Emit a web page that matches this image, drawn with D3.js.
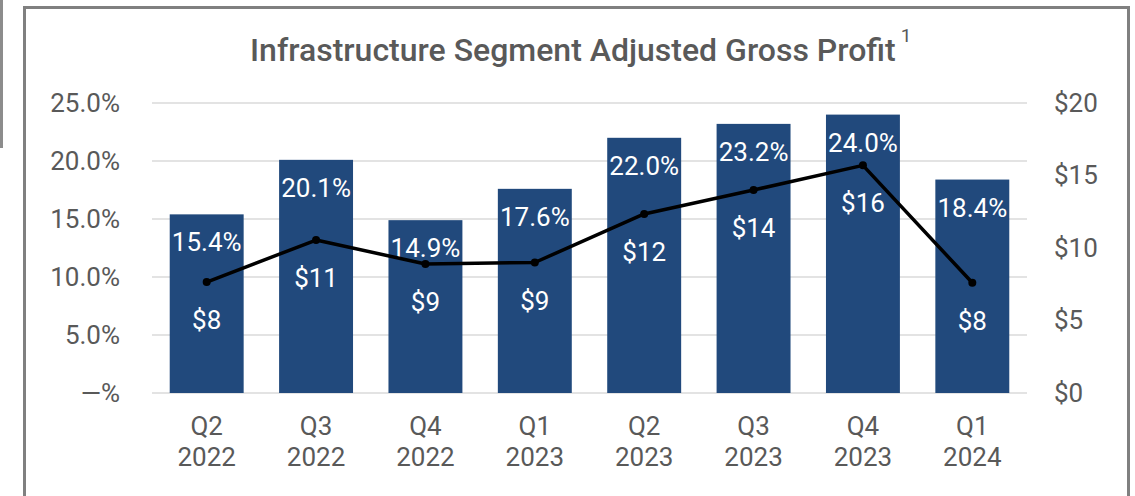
<!DOCTYPE html>
<html><head><meta charset="utf-8">
<script src="https://cdn.jsdelivr.net/npm/d3@7"></script>
<style>
html,body{margin:0;padding:0;background:#fff;}
svg{display:block;font-family:Roboto, "Noto Sans", sans-serif;}
</style></head>
<body>
<svg id="c" width="1135" height="496"></svg>
<script>
const quarters = ["Q2","Q3","Q4","Q1","Q2","Q3","Q4","Q1"];
const years = ["2022","2022","2022","2023","2023","2023","2023","2024"];
const marginPct = [15.4, 20.1, 14.9, 17.6, 22.0, 23.2, 24.0, 18.4];
const grossProfit = [7.65, 10.55, 8.9, 9.0, 12.35, 14.0, 15.7, 7.6];
const profitLabels = ["$8","$11","$9","$9","$12","$14","$16","$8"];
const leftTicks = [0, 5, 10, 15, 20, 25];
const rightTicks = [0, 5, 10, 15, 20];

const svg = d3.select("#c");
const grey = "#595959";
const barColor = "#21497c";

// frame
svg.append("line").attr("x1",1.5).attr("x2",1.5).attr("y1",0).attr("y2",148)
  .attr("stroke","#8c8c8c").attr("stroke-width",3);
svg.append("path").attr("d","M24.5,520 V7.5 H1128.5 V520")
  .attr("fill","none").attr("stroke","#808080").attr("stroke-width",3);

const keys = d3.range(quarters.length);
const x = d3.scaleBand().domain(keys).range([152,1027]).paddingInner(0.324).paddingOuter(0.162);
const yL = d3.scaleLinear().domain([0,25]).range([393,103]);
const yR = d3.scaleLinear().domain([0,20]).range([393,103]);

// grid
svg.append("g").selectAll("line").data(leftTicks).join("line")
  .attr("x1",152).attr("x2",1027)
  .attr("y1",d=>yL(d)).attr("y2",d=>yL(d))
  .attr("stroke","#e3e3e3").attr("stroke-width",2);

// left axis
const axL = svg.append("g").attr("transform","translate(120,0)")
  .call(d3.axisLeft(yL).tickValues(leftTicks).tickSize(0).tickPadding(0)
    .tickFormat(d=> d===0 ? "\u2014%" : d.toFixed(1)+"%"));
axL.select(".domain").remove();
axL.selectAll("text").attr("fill",grey).style("font-size","26px").style("font-family","Roboto");

// right axis
const axR = svg.append("g").attr("transform","translate(1054,0)")
  .call(d3.axisRight(yR).tickValues(rightTicks).tickSize(0).tickPadding(0)
    .tickFormat(d=>"$"+d));
axR.select(".domain").remove();
axR.selectAll("text").attr("fill",grey).style("font-size","26px").style("font-family","Roboto");

// bars
svg.append("g").selectAll("rect").data(keys).join("rect")
  .attr("x",i=>x(i)).attr("width",x.bandwidth())
  .attr("y",i=>yL(marginPct[i])).attr("height",i=>yL(0)-yL(marginPct[i]))
  .attr("fill",barColor);

// percent labels
svg.append("g").selectAll("text").data(keys).join("text")
  .attr("x",i=>x(i)+x.bandwidth()/2).attr("y",i=>yL(marginPct[i])+28)
  .attr("text-anchor","middle").attr("dominant-baseline","central")
  .attr("fill","#fff").style("font-size","26px")
  .text(i=>marginPct[i].toFixed(1)+"%");

// line
const line = d3.line().x(i=>x(i)+x.bandwidth()/2).y(i=>yR(grossProfit[i]));
svg.append("path").datum(keys).attr("d",line)
  .attr("fill","none").attr("stroke","#000").attr("stroke-width",3.5).attr("stroke-linejoin","round");
svg.append("g").selectAll("circle").data(keys).join("circle")
  .attr("cx",i=>x(i)+x.bandwidth()/2).attr("cy",i=>yR(grossProfit[i])).attr("r",4)
  .attr("fill","#000");

// $ labels
svg.append("g").selectAll("text").data(keys).join("text")
  .attr("x",i=>x(i)+x.bandwidth()/2).attr("y",i=>yR(grossProfit[i])+38)
  .attr("text-anchor","middle").attr("dominant-baseline","central")
  .attr("fill","#fff").style("font-size","26px")
  .text(i=>profitLabels[i]);

// category labels
const cat = svg.append("g").selectAll("g").data(keys).join("g");
cat.append("text").attr("x",i=>x(i)+x.bandwidth()/2).attr("y",426)
  .attr("text-anchor","middle").attr("dominant-baseline","central")
  .attr("fill",grey).style("font-size","26px").text(i=>quarters[i]);
cat.append("text").attr("x",i=>x(i)+x.bandwidth()/2).attr("y",457)
  .attr("text-anchor","middle").attr("dominant-baseline","central")
  .attr("fill",grey).style("font-size","26px").text(i=>years[i]);

// title
const title = svg.append("text").attr("x",250).attr("y",61)
  .attr("fill",grey).style("font-size","32px").style("font-weight","500");
title.append("tspan").text("Infrastructure Segment Adjusted Gross Profit");
title.append("tspan").attr("dx",5).attr("dy",-19).style("font-size","19px").style("font-weight","400").text("1");
</script>
</body></html>
